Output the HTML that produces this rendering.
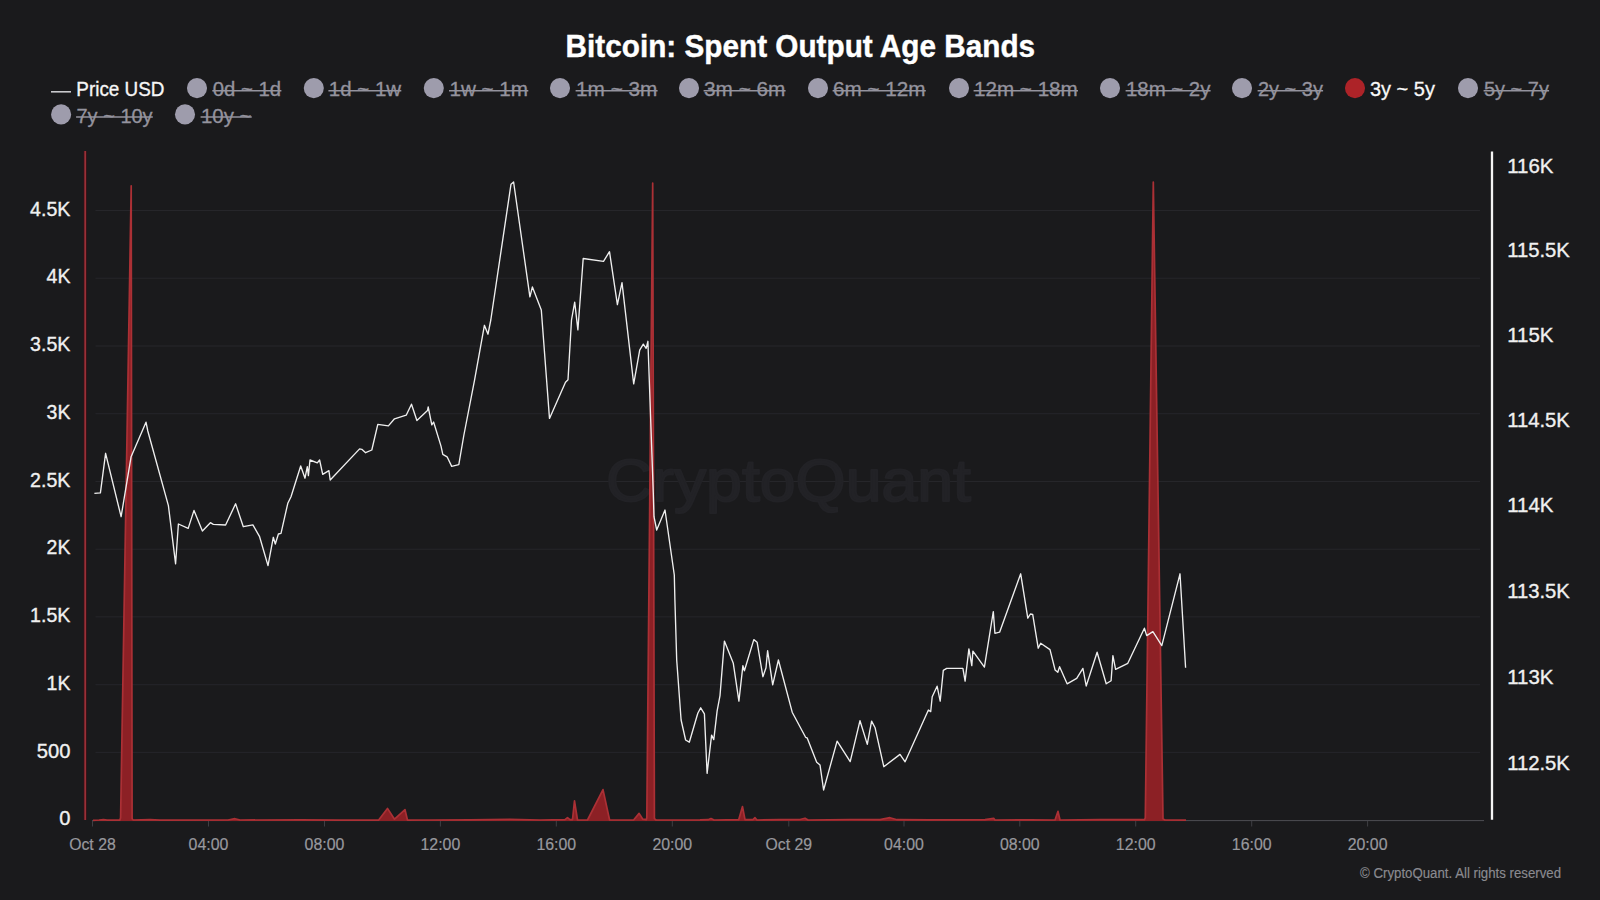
<!DOCTYPE html>
<html lang="en"><head><meta charset="utf-8"><title>Bitcoin: Spent Output Age Bands</title>
<style>html,body{margin:0;padding:0;background:#1a1a1c;}body{width:1600px;height:900px;overflow:hidden;}svg{display:block;font-family:'Liberation Sans', Arial, sans-serif;}</style></head><body>
<svg width="1600" height="900" viewBox="0 0 1600 900">
<rect width="1600" height="900" fill="#1a1a1c"/>
<g stroke="#26262a" stroke-width="1">
<line x1="95.5" y1="210.5" x2="1480" y2="210.5"/>
<line x1="95.5" y1="278.2" x2="1480" y2="278.2"/>
<line x1="95.5" y1="346.0" x2="1480" y2="346.0"/>
<line x1="95.5" y1="413.7" x2="1480" y2="413.7"/>
<line x1="95.5" y1="481.5" x2="1480" y2="481.5"/>
<line x1="95.5" y1="549.2" x2="1480" y2="549.2"/>
<line x1="95.5" y1="616.9" x2="1480" y2="616.9"/>
<line x1="95.5" y1="684.7" x2="1480" y2="684.7"/>
<line x1="95.5" y1="752.4" x2="1480" y2="752.4"/>
</g>
<text x="606" y="501" font-size="59" textLength="365" lengthAdjust="spacingAndGlyphs" fill="#222226" stroke="#222226" stroke-width="2" stroke-linejoin="round">CryptoQuant</text>
<line x1="92" y1="820.6" x2="1484" y2="820.6" stroke="#4e4e53" stroke-width="1"/>
<g stroke="#3f3f44" stroke-width="1">
<line x1="92.5" y1="821" x2="92.5" y2="826.5"/>
<line x1="208.5" y1="821" x2="208.5" y2="826.5"/>
<line x1="324.5" y1="821" x2="324.5" y2="826.5"/>
<line x1="440.4" y1="821" x2="440.4" y2="826.5"/>
<line x1="556.3" y1="821" x2="556.3" y2="826.5"/>
<line x1="672.3" y1="821" x2="672.3" y2="826.5"/>
<line x1="788.8" y1="821" x2="788.8" y2="826.5"/>
<line x1="904" y1="821" x2="904" y2="826.5"/>
<line x1="1019.8" y1="821" x2="1019.8" y2="826.5"/>
<line x1="1135.7" y1="821" x2="1135.7" y2="826.5"/>
<line x1="1251.7" y1="821" x2="1251.7" y2="826.5"/>
<line x1="1367.6" y1="821" x2="1367.6" y2="826.5"/>
</g>
<path d="M93,821.0 L93.0,820.3 L99.0,820.0 L103.5,819.6 L107.0,820.1 L119.9,820.1 L120.6,817.7 L131.2,185.8 L132.1,818.7 L133.2,820.0 L150.0,819.7 L160.0,820.1 L228.0,820.0 L235.0,818.7 L240.0,820.0 L300.0,819.9 L340.0,820.1 L378.7,820.1 L387.5,808.4 L394.5,819.2 L405.0,809.6 L407.5,820.1 L430.0,820.0 L470.0,819.9 L510.0,819.3 L540.0,820.0 L565.0,819.7 L567.5,817.7 L570.0,819.7 L572.5,819.7 L574.5,800.9 L577.5,820.0 L587.5,820.0 L603.0,789.6 L609.6,820.0 L633.6,820.0 L639.1,813.4 L642.8,819.2 L646.3,819.7 L646.8,817.7 L652.7,183.2 L654.4,818.7 L656.0,820.0 L700.0,819.9 L708.0,819.7 L711.0,818.5 L714.0,820.0 L738.7,819.7 L742.5,806.6 L745.0,819.7 L753.0,819.7 L755.0,817.7 L757.0,820.0 L780.0,819.7 L800.0,819.5 L805.0,818.2 L808.0,820.0 L850.0,819.5 L880.0,819.7 L890.0,817.7 L897.0,819.7 L930.0,819.9 L985.0,819.7 L993.7,818.4 L995.0,820.0 L1030.0,819.9 L1055.0,820.0 L1058.0,811.4 L1060.0,820.0 L1100.0,819.7 L1144.5,819.7 L1145.3,817.7 L1153.3,182.0 L1163.0,818.7 L1165.0,819.9 L1186.0,820.1 L1186,821.0 Z" fill="#8c2025"/>
<polyline points="93.0,820.3 99.0,820.0 103.5,819.6 107.0,820.1 119.9,820.1 120.6,817.7 131.2,185.8 132.1,818.7 133.2,820.0 150.0,819.7 160.0,820.1 228.0,820.0 235.0,818.7 240.0,820.0 300.0,819.9 340.0,820.1 378.7,820.1 387.5,808.4 394.5,819.2 405.0,809.6 407.5,820.1 430.0,820.0 470.0,819.9 510.0,819.3 540.0,820.0 565.0,819.7 567.5,817.7 570.0,819.7 572.5,819.7 574.5,800.9 577.5,820.0 587.5,820.0 603.0,789.6 609.6,820.0 633.6,820.0 639.1,813.4 642.8,819.2 646.3,819.7 646.8,817.7 652.7,183.2 654.4,818.7 656.0,820.0 700.0,819.9 708.0,819.7 711.0,818.5 714.0,820.0 738.7,819.7 742.5,806.6 745.0,819.7 753.0,819.7 755.0,817.7 757.0,820.0 780.0,819.7 800.0,819.5 805.0,818.2 808.0,820.0 850.0,819.5 880.0,819.7 890.0,817.7 897.0,819.7 930.0,819.9 985.0,819.7 993.7,818.4 995.0,820.0 1030.0,819.9 1055.0,820.0 1058.0,811.4 1060.0,820.0 1100.0,819.7 1144.5,819.7 1145.3,817.7 1153.3,182.0 1163.0,818.7 1165.0,819.9 1186.0,820.1" fill="none" stroke="#ab3035" stroke-width="1.7" stroke-linejoin="round"/>
<polyline points="94.4,493.3 100.4,492.9 105.6,453.3 121.1,516.7 131.1,456.7 146.0,422.2 147.8,431.0 168.4,505.6 175.6,563.8 178.4,524.0 188.2,528.4 194.0,510.4 202.4,531.0 210.4,522.7 213.3,524.4 225.6,525.0 235.6,503.8 243.3,526.7 252.9,524.9 259.6,536.7 268.0,565.6 273.3,537.3 275.3,544.0 278.4,534.0 281.0,533.3 287.8,503.3 291.0,496.7 300.7,466.0 305.0,478.2 307.3,466.7 308.4,475.6 310.0,460.0 317.3,462.9 319.6,460.0 322.7,474.4 328.9,470.7 330.2,480.0 359.6,448.9 361.8,449.3 365.6,452.7 371.8,450.0 377.8,424.4 388.4,425.9 394.5,418.8 406.2,415.2 411.5,404.2 416.9,420.5 427.5,410.6 428.2,407.0 431.8,424.8 433.6,422.0 441.0,446.1 442.8,454.3 447.1,456.8 451.7,466.4 458.8,464.6 463.8,435.5 474.5,380.4 484.4,325.3 488.0,334.2 490.8,320.0 511.0,184.2 513.6,182.0 529.9,296.9 532.4,286.9 541.3,310.0 549.5,418.4 565.5,382.2 568.0,379.7 571.5,320.0 574.7,302.2 577.9,329.9 583.2,258.5 603.5,261.3 609.5,251.7 617.4,304.7 622.0,282.6 633.7,383.9 639.7,350.2 643.3,344.1 646.1,348.4 647.9,341.3 653.3,493.3 654.0,516.7 656.7,530.0 665.0,510.0 674.3,575.0 674.9,600.0 676.7,660.0 681.1,720.0 685.6,740.0 689.3,742.2 697.8,713.3 700.7,707.8 704.4,713.8 707.1,773.3 711.6,735.1 713.8,739.6 717.1,711.1 720.0,695.6 724.4,641.1 733.3,663.3 738.9,701.1 742.9,665.6 744.4,670.7 753.8,639.6 757.1,642.2 762.9,676.7 766.0,667.8 767.6,650.7 772.7,684.9 778.4,660.0 792.2,712.2 805.6,737.3 807.1,737.8 816.7,762.2 820.0,764.9 823.6,790.0 837.1,741.1 850.2,761.6 860.0,720.7 867.3,744.4 871.6,721.1 875.1,727.8 883.8,766.7 900.0,754.4 905.1,761.8 928.4,710.0 930.7,711.6 932.2,696.7 937.1,686.2 940.2,701.1 943.3,670.4 946.7,668.4 962.9,668.4 965.1,681.1 968.9,648.9 971.8,665.6 972.9,651.1 984.4,667.1 993.3,611.6 994.9,633.3 999.6,632.2 1020.7,573.8 1027.8,618.2 1030.4,614.0 1032.7,614.4 1038.2,648.2 1040.7,643.3 1050.0,649.6 1055.1,670.0 1057.8,672.2 1059.6,666.7 1067.1,683.8 1076.7,678.4 1082.9,668.4 1086.2,686.0 1097.1,652.2 1106.2,683.8 1111.1,680.7 1112.9,655.6 1115.6,669.3 1127.8,663.3 1144.4,628.2 1146.7,635.6 1152.9,631.6 1161.8,645.6 1180.0,573.8 1185.6,667.8" fill="none" stroke="#efefef" stroke-width="1.35" stroke-linejoin="round"/>
<line x1="85.2" y1="151" x2="85.2" y2="820" stroke="#3a1119" stroke-width="3.2"/>
<line x1="85.2" y1="151" x2="85.2" y2="820" stroke="#9a3037" stroke-width="1.7"/>
<line x1="1492" y1="151.5" x2="1492" y2="819.8" stroke="#f4f4f4" stroke-width="2.3"/>
<text x="30.1" y="215.5" font-size="20.70" fill="#f0f0f0" stroke="#f0f0f0" stroke-width="0.35" textLength="40.3" lengthAdjust="spacingAndGlyphs">4.5K</text>
<text x="46.6" y="283.3" font-size="20.70" fill="#f0f0f0" stroke="#f0f0f0" stroke-width="0.35" textLength="23.8" lengthAdjust="spacingAndGlyphs">4K</text>
<text x="30.1" y="351.0" font-size="20.70" fill="#f0f0f0" stroke="#f0f0f0" stroke-width="0.35" textLength="40.3" lengthAdjust="spacingAndGlyphs">3.5K</text>
<text x="46.6" y="418.8" font-size="20.70" fill="#f0f0f0" stroke="#f0f0f0" stroke-width="0.35" textLength="23.8" lengthAdjust="spacingAndGlyphs">3K</text>
<text x="30.1" y="486.5" font-size="20.70" fill="#f0f0f0" stroke="#f0f0f0" stroke-width="0.35" textLength="40.3" lengthAdjust="spacingAndGlyphs">2.5K</text>
<text x="46.6" y="554.3" font-size="20.70" fill="#f0f0f0" stroke="#f0f0f0" stroke-width="0.35" textLength="23.8" lengthAdjust="spacingAndGlyphs">2K</text>
<text x="30.1" y="622.1" font-size="20.70" fill="#f0f0f0" stroke="#f0f0f0" stroke-width="0.35" textLength="40.3" lengthAdjust="spacingAndGlyphs">1.5K</text>
<text x="46.6" y="689.8" font-size="20.70" fill="#f0f0f0" stroke="#f0f0f0" stroke-width="0.35" textLength="23.8" lengthAdjust="spacingAndGlyphs">1K</text>
<text x="36.7" y="757.6" font-size="20.70" fill="#f0f0f0" stroke="#f0f0f0" stroke-width="0.35" textLength="33.7" lengthAdjust="spacingAndGlyphs">500</text>
<text x="59.2" y="825.3" font-size="20.70" fill="#f0f0f0" stroke="#f0f0f0" stroke-width="0.35" textLength="11.2" lengthAdjust="spacingAndGlyphs">0</text>
<text x="1507.2" y="172.9" font-size="20.70" fill="#f0f0f0" stroke="#f0f0f0" stroke-width="0.35" textLength="46.2" lengthAdjust="spacingAndGlyphs">116K</text>
<text x="1507.2" y="257.1" font-size="20.70" fill="#f0f0f0" stroke="#f0f0f0" stroke-width="0.35" textLength="62.7" lengthAdjust="spacingAndGlyphs">115.5K</text>
<text x="1507.2" y="341.8" font-size="20.70" fill="#f0f0f0" stroke="#f0f0f0" stroke-width="0.35" textLength="46.2" lengthAdjust="spacingAndGlyphs">115K</text>
<text x="1507.2" y="426.6" font-size="20.70" fill="#f0f0f0" stroke="#f0f0f0" stroke-width="0.35" textLength="62.7" lengthAdjust="spacingAndGlyphs">114.5K</text>
<text x="1507.2" y="511.9" font-size="20.70" fill="#f0f0f0" stroke="#f0f0f0" stroke-width="0.35" textLength="46.2" lengthAdjust="spacingAndGlyphs">114K</text>
<text x="1507.2" y="597.7" font-size="20.70" fill="#f0f0f0" stroke="#f0f0f0" stroke-width="0.35" textLength="62.7" lengthAdjust="spacingAndGlyphs">113.5K</text>
<text x="1507.2" y="684.0" font-size="20.70" fill="#f0f0f0" stroke="#f0f0f0" stroke-width="0.35" textLength="46.2" lengthAdjust="spacingAndGlyphs">113K</text>
<text x="1507.2" y="769.6" font-size="20.70" fill="#f0f0f0" stroke="#f0f0f0" stroke-width="0.35" textLength="62.7" lengthAdjust="spacingAndGlyphs">112.5K</text>
<text x="69.2" y="849.8" font-size="16.56" fill="#98989e" stroke="#98989e" stroke-width="0.2" textLength="46.5" lengthAdjust="spacingAndGlyphs">Oct 28</text>
<text x="188.6" y="849.8" font-size="16.56" fill="#98989e" stroke="#98989e" stroke-width="0.2" textLength="39.8" lengthAdjust="spacingAndGlyphs">04:00</text>
<text x="304.6" y="849.8" font-size="16.56" fill="#98989e" stroke="#98989e" stroke-width="0.2" textLength="39.8" lengthAdjust="spacingAndGlyphs">08:00</text>
<text x="420.5" y="849.8" font-size="16.56" fill="#98989e" stroke="#98989e" stroke-width="0.2" textLength="39.8" lengthAdjust="spacingAndGlyphs">12:00</text>
<text x="536.4" y="849.8" font-size="16.56" fill="#98989e" stroke="#98989e" stroke-width="0.2" textLength="39.8" lengthAdjust="spacingAndGlyphs">16:00</text>
<text x="652.4" y="849.8" font-size="16.56" fill="#98989e" stroke="#98989e" stroke-width="0.2" textLength="39.8" lengthAdjust="spacingAndGlyphs">20:00</text>
<text x="765.5" y="849.8" font-size="16.56" fill="#98989e" stroke="#98989e" stroke-width="0.2" textLength="46.5" lengthAdjust="spacingAndGlyphs">Oct 29</text>
<text x="884.1" y="849.8" font-size="16.56" fill="#98989e" stroke="#98989e" stroke-width="0.2" textLength="39.8" lengthAdjust="spacingAndGlyphs">04:00</text>
<text x="999.9" y="849.8" font-size="16.56" fill="#98989e" stroke="#98989e" stroke-width="0.2" textLength="39.8" lengthAdjust="spacingAndGlyphs">08:00</text>
<text x="1115.8" y="849.8" font-size="16.56" fill="#98989e" stroke="#98989e" stroke-width="0.2" textLength="39.8" lengthAdjust="spacingAndGlyphs">12:00</text>
<text x="1231.8" y="849.8" font-size="16.56" fill="#98989e" stroke="#98989e" stroke-width="0.2" textLength="39.8" lengthAdjust="spacingAndGlyphs">16:00</text>
<text x="1347.7" y="849.8" font-size="16.56" fill="#98989e" stroke="#98989e" stroke-width="0.2" textLength="39.8" lengthAdjust="spacingAndGlyphs">20:00</text>
<text x="565.6" y="56.7" font-size="30.8" font-weight="700" fill="#ffffff" stroke="#ffffff" stroke-width="0.4" textLength="469.5" lengthAdjust="spacingAndGlyphs">Bitcoin: Spent Output Age Bands</text>
<line x1="51" y1="91.8" x2="71" y2="91.8" stroke="#c9c9cc" stroke-width="1.6"/>
<text x="76.3" y="96.1" font-size="20.70" fill="#f6f6f6" stroke="#f6f6f6" stroke-width="0.35" textLength="88.2" lengthAdjust="spacingAndGlyphs">Price USD</text>
<circle cx="197" cy="88.1" r="10.05" fill="#9e9cac"/>
<text x="212.7" y="96.3" font-size="20.70" fill="#94939e" stroke="#94939e" stroke-width="0.3" textLength="68.5" lengthAdjust="spacingAndGlyphs">0d ~ 1d</text>
<line x1="212.3" y1="90.8" x2="281.4" y2="90.8" stroke="#94939e" stroke-width="1.4"/>
<circle cx="313.8" cy="88.1" r="10.05" fill="#9e9cac"/>
<text x="328.8" y="96.3" font-size="20.70" fill="#94939e" stroke="#94939e" stroke-width="0.3" textLength="72.3" lengthAdjust="spacingAndGlyphs">1d ~ 1w</text>
<line x1="328.4" y1="90.8" x2="401.3" y2="90.8" stroke="#94939e" stroke-width="1.4"/>
<circle cx="433.8" cy="88.1" r="10.05" fill="#9e9cac"/>
<text x="449.4" y="96.3" font-size="20.70" fill="#94939e" stroke="#94939e" stroke-width="0.3" textLength="78.7" lengthAdjust="spacingAndGlyphs">1w ~ 1m</text>
<line x1="449.0" y1="90.8" x2="528.3" y2="90.8" stroke="#94939e" stroke-width="1.4"/>
<circle cx="560" cy="88.1" r="10.05" fill="#9e9cac"/>
<text x="576.0" y="96.3" font-size="20.70" fill="#94939e" stroke="#94939e" stroke-width="0.3" textLength="81.4" lengthAdjust="spacingAndGlyphs">1m ~ 3m</text>
<line x1="575.6" y1="90.8" x2="657.6" y2="90.8" stroke="#94939e" stroke-width="1.4"/>
<circle cx="689" cy="88.1" r="10.05" fill="#9e9cac"/>
<text x="704.0" y="96.3" font-size="20.70" fill="#94939e" stroke="#94939e" stroke-width="0.3" textLength="81.4" lengthAdjust="spacingAndGlyphs">3m ~ 6m</text>
<line x1="703.6" y1="90.8" x2="785.6" y2="90.8" stroke="#94939e" stroke-width="1.4"/>
<circle cx="818" cy="88.1" r="10.05" fill="#9e9cac"/>
<text x="833.0" y="96.3" font-size="20.70" fill="#94939e" stroke="#94939e" stroke-width="0.3" textLength="92.6" lengthAdjust="spacingAndGlyphs">6m ~ 12m</text>
<line x1="832.6" y1="90.8" x2="925.8" y2="90.8" stroke="#94939e" stroke-width="1.4"/>
<circle cx="959" cy="88.1" r="10.05" fill="#9e9cac"/>
<text x="974.0" y="96.3" font-size="20.70" fill="#94939e" stroke="#94939e" stroke-width="0.3" textLength="103.8" lengthAdjust="spacingAndGlyphs">12m ~ 18m</text>
<line x1="973.6" y1="90.8" x2="1078.0" y2="90.8" stroke="#94939e" stroke-width="1.4"/>
<circle cx="1110" cy="88.1" r="10.05" fill="#9e9cac"/>
<text x="1126.0" y="96.3" font-size="20.70" fill="#94939e" stroke="#94939e" stroke-width="0.3" textLength="84.4" lengthAdjust="spacingAndGlyphs">18m ~ 2y</text>
<line x1="1125.6" y1="90.8" x2="1210.6" y2="90.8" stroke="#94939e" stroke-width="1.4"/>
<circle cx="1242" cy="88.1" r="10.05" fill="#9e9cac"/>
<text x="1258.0" y="96.3" font-size="20.70" fill="#94939e" stroke="#94939e" stroke-width="0.3" textLength="64.9" lengthAdjust="spacingAndGlyphs">2y ~ 3y</text>
<line x1="1257.6" y1="90.8" x2="1323.1" y2="90.8" stroke="#94939e" stroke-width="1.4"/>
<circle cx="1355" cy="88.1" r="10.05" fill="#ad2328"/>
<text x="1370.0" y="96.3" font-size="20.70" fill="#f8f8f8" stroke="#f8f8f8" stroke-width="0.3" textLength="64.9" lengthAdjust="spacingAndGlyphs">3y ~ 5y</text>
<circle cx="1468" cy="88.1" r="10.05" fill="#9e9cac"/>
<text x="1484.0" y="96.3" font-size="20.70" fill="#94939e" stroke="#94939e" stroke-width="0.3" textLength="64.9" lengthAdjust="spacingAndGlyphs">5y ~ 7y</text>
<line x1="1483.6" y1="90.8" x2="1549.1" y2="90.8" stroke="#94939e" stroke-width="1.4"/>
<circle cx="61.1" cy="114.4" r="10.05" fill="#9e9cac"/>
<text x="76.5" y="122.5" font-size="20.70" fill="#94939e" stroke="#94939e" stroke-width="0.3" textLength="76.1" lengthAdjust="spacingAndGlyphs">7y ~ 10y</text>
<line x1="76.1" y1="117.0" x2="152.8" y2="117.0" stroke="#94939e" stroke-width="1.4"/>
<circle cx="185" cy="114.4" r="10.05" fill="#9e9cac"/>
<text x="201.0" y="122.5" font-size="20.70" fill="#94939e" stroke="#94939e" stroke-width="0.3" textLength="50.5" lengthAdjust="spacingAndGlyphs">10y ~</text>
<line x1="200.6" y1="117.0" x2="251.7" y2="117.0" stroke="#94939e" stroke-width="1.4"/>
<text x="1360.0" y="878.1" font-size="13.77" fill="#8a8a90" stroke="#8a8a90" stroke-width="0.15" textLength="201.1" lengthAdjust="spacingAndGlyphs">© CryptoQuant. All rights reserved</text>
</svg></body></html>
